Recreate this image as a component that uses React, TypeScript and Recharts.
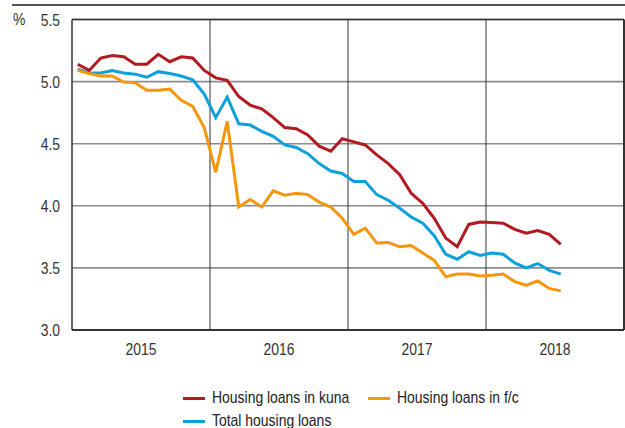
import { LineChart, Line, XAxis, YAxis, CartesianGrid, ReferenceLine } from 'recharts';

// monthly rates, Jan 2015 - Jul 2018 (%)
const kuna = [
  5.14, 5.09, 5.19, 5.21, 5.2, 5.14, 5.14, 5.22, 5.16, 5.2, 5.19, 5.09,
  5.03, 5.01, 4.88, 4.81, 4.78, 4.71, 4.63, 4.62, 4.57, 4.48, 4.44, 4.54,
  4.515, 4.49, 4.41, 4.34, 4.25, 4.1, 4.02, 3.9, 3.74, 3.67, 3.85, 3.87,
  3.865, 3.86, 3.81, 3.78, 3.8, 3.77, 3.69,
];
const foreignCurrency = [
  5.09, 5.065, 5.045, 5.045, 4.997, 4.99, 4.93, 4.93, 4.94, 4.85, 4.8, 4.63,
  4.27, 4.68, 3.99, 4.05, 3.99, 4.12, 4.085, 4.1, 4.09, 4.03, 3.99, 3.9,
  3.77, 3.82, 3.7, 3.705, 3.67, 3.68, 3.62, 3.56, 3.43, 3.45, 3.45, 3.435,
  3.44, 3.45, 3.39, 3.36, 3.395, 3.335, 3.315,
];
const total = [
  5.1, 5.07, 5.07, 5.09, 5.07, 5.06, 5.035, 5.08, 5.065, 5.045, 5.015, 4.9,
  4.71, 4.875, 4.66, 4.65, 4.6, 4.56, 4.49, 4.47, 4.42, 4.34, 4.28, 4.26,
  4.195, 4.195, 4.09, 4.045, 3.98, 3.91, 3.86, 3.76, 3.61, 3.57, 3.63, 3.6,
  3.62, 3.61, 3.54, 3.5, 3.535, 3.48, 3.45,
];
const years = ['2015', '2016', '2017', '2018'];
const yTicks = [3.0, 3.5, 4.0, 4.5, 5.0, 5.5];

const RED = '#b31a20';
const ORANGE = '#f5960f';
const BLUE = '#0ea0da';
const FONT = "'Liberation Sans', Arial, sans-serif";
const SQUEEZE = 0.82; // fake a narrow face, none is installed

const data = kuna.map((v, i) => ({
  m: i + 0.5,
  kuna: v,
  fc: foreignCurrency[i],
  total: total[i],
}));

const legendItems = [
  { name: 'Housing loans in kuna', color: RED, left: 183, top: 388 },
  { name: 'Housing loans in f/c', color: ORANGE, left: 368, top: 388 },
  { name: 'Total housing loans', color: BLUE, left: 183, top: 411 },
];

function NarrowTick(props: any) {
  const { x, y, payload, textAnchor, dy, fmt } = props;
  return (
    <g transform={`translate(${x},${y})`}>
      <text transform={`scale(${SQUEEZE},1)`} textAnchor={textAnchor} dy={dy} fill="#333" fontSize={17} fontFamily={FONT}>
        {fmt(payload.value)}
      </text>
    </g>
  );
}

const narrow = { display: 'inline-block', transform: `scaleX(${SQUEEZE})`, transformOrigin: 'left center' } as const;

export default function App() {
  return (
    <div style={{ position: 'absolute', left: 0, top: 0, width: 625, height: 428, background: '#fff', fontFamily: FONT, overflow: 'hidden' }}>
      {/* rule above the chart */}
      <div style={{ position: 'absolute', left: 12, top: 4, width: 613, height: 1.5, background: '#555' }} />
      <div style={{ position: 'absolute', left: 13, top: 10, fontSize: 17, color: '#333' }}>
        <span style={narrow}>%</span>
      </div>

      <LineChart width={625} height={428} data={data} margin={{ top: 19.5, right: 1, left: 0, bottom: 68 }}>
        <CartesianGrid vertical={false} stroke="#8c8c8c" strokeWidth={1.6} />
        <XAxis
          type="number"
          dataKey="m"
          domain={[0, 48]}
          ticks={[6, 18, 30, 42]}
          height={30}
          tickLine={false}
          tickMargin={7}
          axisLine={{ stroke: '#333', strokeWidth: 2 }}
          tick={<NarrowTick textAnchor="middle" dy="0.71em" fmt={(v: number) => years[Math.floor(v / 12)]} />}
          interval={0}
        />
        <YAxis
          type="number"
          domain={[3, 5.5]}
          ticks={yTicks}
          width={72}
          tickLine={false}
          tickMargin={6}
          axisLine={{ stroke: '#333', strokeWidth: 1.5 }}
          tick={<NarrowTick textAnchor="end" dy="0.355em" fmt={(v: number) => v.toFixed(1)} />}
          interval={0}
        />
        <ReferenceLine y={5.5} stroke="#333" strokeWidth={1.5} />
        <ReferenceLine x={12} stroke="#333" strokeWidth={1} />
        <ReferenceLine x={24} stroke="#333" strokeWidth={1} />
        <ReferenceLine x={36} stroke="#333" strokeWidth={1} />
        <ReferenceLine x={48} stroke="#333" strokeWidth={2} />
        <Line type="linear" dataKey="total" stroke={BLUE} strokeWidth={3} dot={false} isAnimationActive={false} />
        <Line type="linear" dataKey="fc" stroke={ORANGE} strokeWidth={3} dot={false} isAnimationActive={false} />
        <Line type="linear" dataKey="kuna" stroke={RED} strokeWidth={3} dot={false} isAnimationActive={false} />
      </LineChart>

      {legendItems.map((it) => (
        <div
          key={it.name}
          style={{ position: 'absolute', left: it.left, top: it.top, display: 'flex', alignItems: 'center', fontSize: 17, color: '#222', whiteSpace: 'nowrap' }}
        >
          <span style={{ display: 'inline-block', width: 22, height: 3, background: it.color, marginRight: 7 }} />
          <span style={narrow}>{it.name}</span>
        </div>
      ))}
    </div>
  );
}
